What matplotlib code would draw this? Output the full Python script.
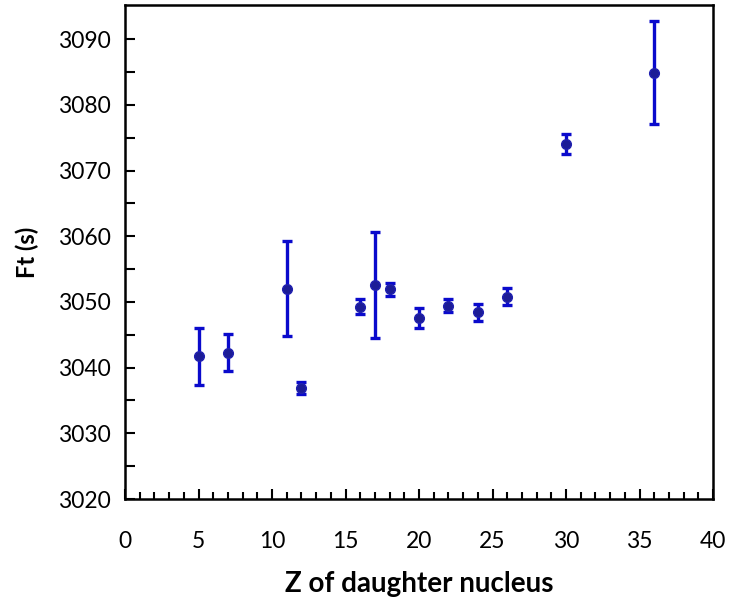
import numpy as np
import matplotlib.pyplot as plt

plt.rcParams['font.family'] = ['Lato', 'DejaVu Sans']

# Z of daughter nucleus, Ft values (s) and uncertainties
z = [5, 7, 11, 12, 16, 17, 18, 20, 22, 24, 26, 30, 36]
ft = [3041.7, 3042.3, 3052.0, 3036.85, 3049.3, 3052.6, 3051.9, 3047.6, 3049.4, 3048.4, 3050.8, 3074.0, 3084.9]
ft_err = [4.3, 2.8, 7.2, 0.9, 1.1, 8.1, 1.0, 1.5, 1.0, 1.25, 1.3, 1.5, 7.8]

fig = plt.figure(figsize=(7.47, 6.03), dpi=100)
ax = fig.add_axes([125/747, 104/603, 588/747, 494/603])

ax.errorbar(z, ft, yerr=ft_err, fmt='o', color='#1c1c96', markersize=7,
            markeredgecolor='#2020b0', ecolor='#0a0acc', elinewidth=2.4,
            capsize=3.5, capthick=2.4, zorder=3)

ax.set_xlim(0, 40)
ax.set_ylim(3020, 3095.2)
ax.set_xticks(np.arange(0, 41, 5))
ax.set_xticks(np.arange(0, 41, 1), minor=True)
ax.set_yticks(np.arange(3020, 3091, 10))
ax.set_yticks(np.arange(3020, 3095, 5), minor=True)

for s in ax.spines.values():
    s.set_linewidth(1.8)

ax.tick_params(axis='x', which='major', direction='in', length=7, width=1.5,
               labelsize=16.5, pad=23)
ax.tick_params(axis='x', which='minor', direction='in', length=5, width=1.5)
ax.tick_params(axis='y', which='both', direction='in', length=7, width=1.5,
               labelsize=16.5, pad=10)

ax.set_xlabel('Z of daughter nucleus', fontsize=20, fontweight='bold', labelpad=14)
ax.set_ylabel('Ft (s)', fontsize=17, fontweight='bold', labelpad=14)

fig.savefig('out.png', dpi=100)
